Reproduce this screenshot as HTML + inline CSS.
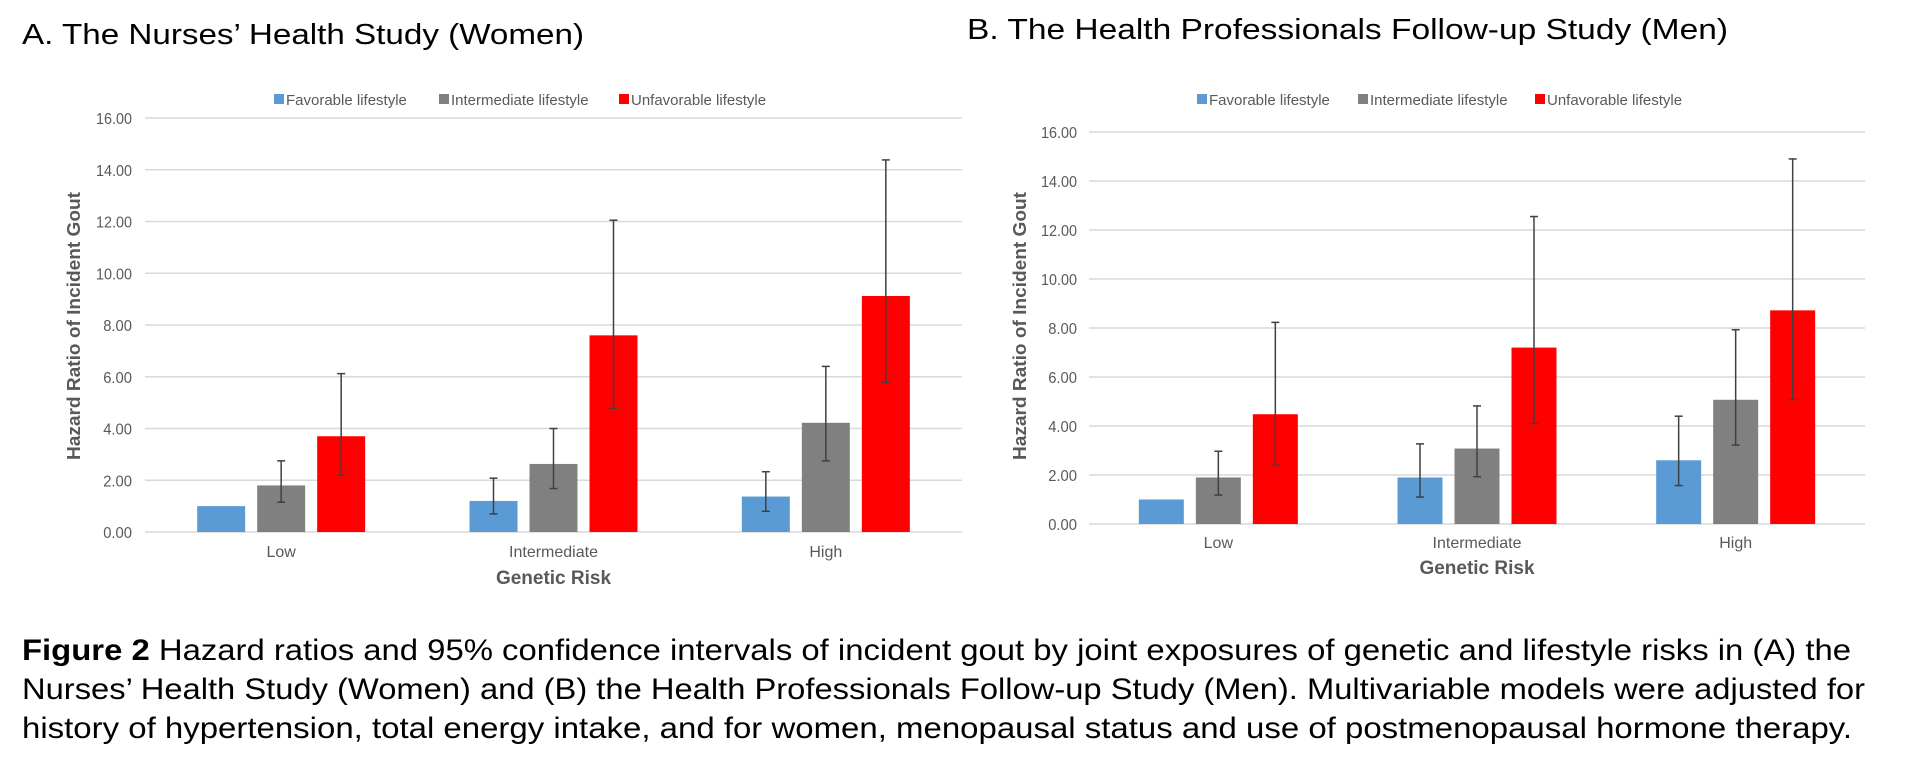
<!DOCTYPE html>
<html><head><meta charset="utf-8">
<style>
body{margin:0;background:#fff;width:1928px;height:770px;overflow:hidden;font-family:"Liberation Sans",Arial,sans-serif}
svg{display:block}
</style></head>
<body>
<svg id="fig" width="1928" height="770" xmlns="http://www.w3.org/2000/svg" font-family="Liberation Sans, Arial, sans-serif">
<text x="22" y="44" font-size="29" fill="#000" textLength="562" lengthAdjust="spacingAndGlyphs">A. The Nurses’ Health Study (Women)</text>
<text x="967" y="39" font-size="29" fill="#000" textLength="761" lengthAdjust="spacingAndGlyphs">B. The Health Professionals Follow-up Study (Men)</text>
<g font-size="30" fill="#000">
<text x="22" y="660" textLength="1829" lengthAdjust="spacingAndGlyphs"><tspan font-weight="bold">Figure 2</tspan> Hazard ratios and 95% confidence intervals of incident gout by joint exposures of genetic and lifestyle risks in (A) the</text>
<text x="22" y="699" textLength="1843" lengthAdjust="spacingAndGlyphs">Nurses’ Health Study (Women) and (B) the Health Professionals Follow-up Study (Men). Multivariable models were adjusted for</text>
<text x="22" y="738" textLength="1830" lengthAdjust="spacingAndGlyphs">history of hypertension, total energy intake, and for women, menopausal status and use of postmenopausal hormone therapy.</text>
</g>
<g id="chartA"></g>
<g id="chartB"></g>
</svg>
<script>
const categories = ["Low", "Intermediate", "High"];
const seriesNames = ["Favorable lifestyle", "Intermediate lifestyle", "Unfavorable lifestyle"];
const yTicks = [0, 2, 4, 6, 8, 10, 12, 14, 16];
const aFavorable = [1.0, 1.2, 1.37];
const aFavLow = [null, 0.7, 0.8];
const aFavHigh = [null, 2.08, 2.33];
const aIntermediate = [1.8, 2.63, 4.22];
const aIntLow = [1.15, 1.68, 2.75];
const aIntHigh = [2.75, 4.0, 6.4];
const aUnfavorable = [3.7, 7.6, 9.12];
const aUnfLow = [2.2, 4.78, 5.78];
const aUnfHigh = [6.12, 12.05, 14.38];
const bFavorable = [1.0, 1.9, 2.6];
const bFavLow = [null, 1.1, 1.57];
const bFavHigh = [null, 3.27, 4.4];
const bIntermediate = [1.9, 3.08, 5.07];
const bIntLow = [1.18, 1.93, 3.22];
const bIntHigh = [2.97, 4.82, 7.93];
const bUnfavorable = [4.48, 7.2, 8.72];
const bUnfLow = [2.4, 4.1, 5.08];
const bUnfHigh = [8.23, 12.55, 14.9];

const colors = ["#5b9bd5", "#808080", "#ff0000"];
const NS = "http://www.w3.org/2000/svg";
function mk(parent, tag, attrs, text) {
  const e = document.createElementNS(NS, tag);
  for (const k in attrs) e.setAttribute(k, attrs[k]);
  if (text !== undefined) e.textContent = text;
  parent.appendChild(e);
  return e;
}
function draw(g, cfg, vals, lows, highs) {
  const y = v => cfg.y0 - v / 16 * (cfg.y0 - cfg.y16);
  const groupW = (cfg.x1 - cfg.x0) / categories.length;
  const cx = i => cfg.x0 + groupW * (i + 0.5);
  yTicks.forEach(t => {
    const l = mk(g, "line", {x1: cfg.x0, x2: cfg.x1, y1: y(t), y2: y(t), stroke: "#d9d9d9", "stroke-width": 1.5});
    
    
    const lbl = t.toFixed(2);
    const tx = mk(g, "text", {x: cfg.lblX, y: y(t) + 6, "text-anchor": "end", "font-size": 16, fill: "#595959", textLength: lbl.length * 7.2, lengthAdjust: "spacingAndGlyphs"}, lbl);
    
    
  });
  categories.forEach((c, i) => {
    const t = mk(g, "text", {x: cx(i), y: cfg.catY, "text-anchor": "middle", "font-size": 16, fill: "#595959"}, c);
    
    
    for (let s = 0; s < 3; s++) {
      const bx = cx(i) + (s - 1) * cfg.step - cfg.bw / 2;
      const r = mk(g, "rect", {x: bx, y: y(vals[s][i]), width: cfg.bw, height: y(0) - y(vals[s][i]), fill: colors[s]});
      
      
      if (lows[s][i] != null) {
        const ex = bx + cfg.bw / 2;
        const eg = mk(g, "g", {stroke: "#404040", "stroke-width": 1.5});
        
        
        mk(eg, "line", {x1: ex, x2: ex, y1: y(lows[s][i]), y2: y(highs[s][i])});
        mk(eg, "line", {x1: ex - 4, x2: ex + 4, y1: y(lows[s][i]), y2: y(lows[s][i])});
        mk(eg, "line", {x1: ex - 4, x2: ex + 4, y1: y(highs[s][i]), y2: y(highs[s][i])});
      }
    }
  });
  const yt = mk(g, "text", {x: 0, y: 0, transform: `translate(${cfg.ytX},${cfg.ytY}) rotate(-90)`, "text-anchor": "middle", "font-size": 18, "font-weight": "bold", fill: "#595959", textLength: 268, lengthAdjust: "spacingAndGlyphs"}, "Hazard Ratio of Incident Gout");
  
  
  const xt = mk(g, "text", {x: cx(1), y: cfg.xtY, "text-anchor": "middle", "font-size": 19, "font-weight": "bold", fill: "#595959"}, "Genetic Risk");
  
  
  seriesNames.forEach((n, s) => {
    const lg = mk(g, "g", {});
    
    
    mk(lg, "rect", {x: cfg.legX[s], y: cfg.legY - 11, width: 10, height: 10, fill: colors[s]});
    mk(lg, "text", {x: cfg.legX[s] + 12, y: cfg.legY, "font-size": 15, fill: "#595959"}, n);
  });
}
draw(document.getElementById("chartA"),
  {x0: 145, x1: 962, y0: 532, y16: 118, bw: 48, step: 60, lblX: 132, catY: 557, xtY: 584, ytX: 80, ytY: 326, legX: [274, 439, 619], legY: 105},
  [aFavorable, aIntermediate, aUnfavorable], [aFavLow, aIntLow, aUnfLow], [aFavHigh, aIntHigh, aUnfHigh]);
draw(document.getElementById("chartB"),
  {x0: 1089, x1: 1865, y0: 524, y16: 132, bw: 45, step: 57, lblX: 1077, catY: 548, xtY: 574, ytX: 1026, ytY: 326, legX: [1197, 1358, 1535], legY: 105},
  [bFavorable, bIntermediate, bUnfavorable], [bFavLow, bIntLow, bUnfLow], [bFavHigh, bIntHigh, bUnfHigh]);
</script>
</body></html>
